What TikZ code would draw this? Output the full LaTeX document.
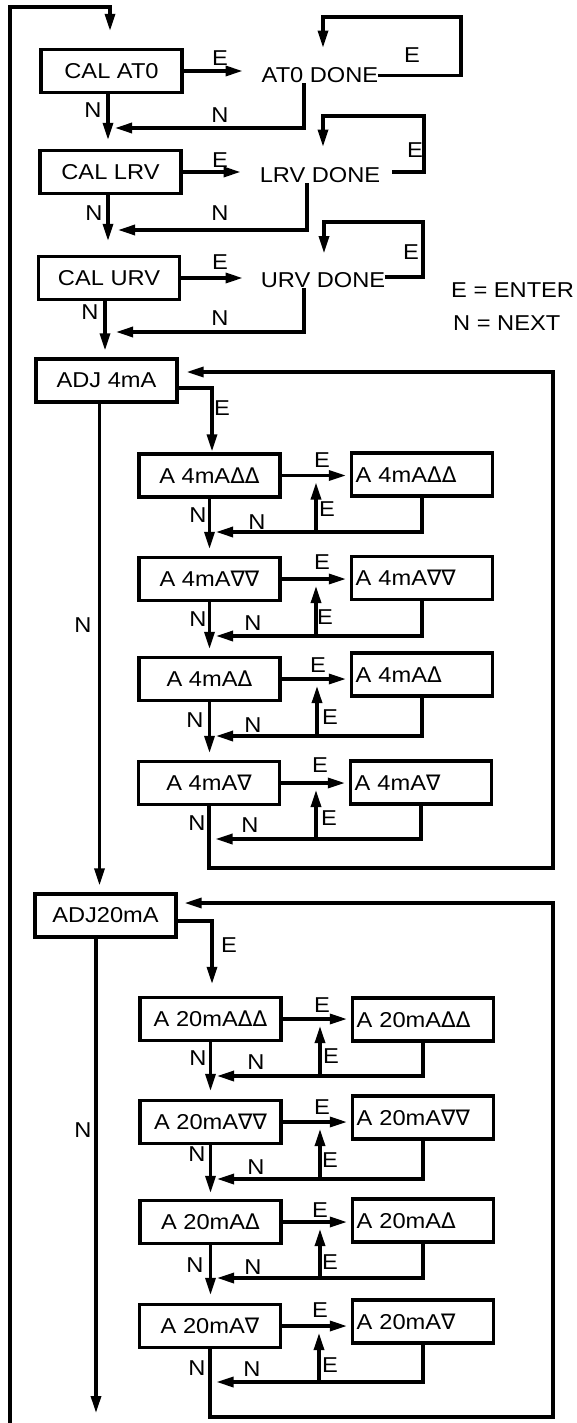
\documentclass[tikz,border=0pt]{standalone}
\usepackage{fontspec}
\setmainfont{Liberation Sans}[FakeStretch=1.1]
\newfontfamily\symf{DejaVu Sans}[Scale=1.0]
\usetikzlibrary{arrows.meta}
\newcommand{\tup}{{\symf Δ}}
\newcommand{\tdn}{{\symf ∇}}
\begin{document}
\begin{tikzpicture}[x=1pt,y=-1pt,
  font=\fontsize{21.5}{25}\selectfont,
  arr/.style={line width=3.2pt,-{Triangle[length=17pt,width=10pt]}},
  lbox/.style={draw,line width=3.2pt,minimum width=141pt,minimum height=43pt,inner sep=0pt},
  rbox/.style={draw,line width=3.2pt,text width=133pt,inner xsep=4pt,inner ysep=0pt,minimum height=43pt,align=left},
  plain/.style={inner sep=0pt},
  lbl/.style={inner sep=0pt}]
\useasboundingbox (0,0) rectangle (576,1423);

% ---------- nodes ----------
\node[lbox] (calat0) at (111.5,71) {CAL AT0};
\node[lbox] (callrv) at (110.5,172) {CAL LRV};
\node[lbox] (calurv) at (109,278) {CAL URV};
\node[plain] (at0done) at (320,75.5) {AT0 DONE};
\node[plain] (lrvdone) at (320,175.5) {LRV DONE};
\node[plain] (urvdone) at (323,280) {URV DONE};
\node[lbox] (adj4) at (106.5,380.5) {ADJ 4mA};
\node[lbox] (adj20) at (105.5,915.5) {ADJ20mA};

\node[lbox] (a1L) at (209.5,475.5) {A 4mA\tup\tup};
\node[rbox] (a1R) at (422,474.5) {A 4mA\tup\tup};
\node[lbox] (a2L) at (209.5,579) {A 4mA\tdn\tdn};
\node[rbox] (a2R) at (422,578) {A 4mA\tdn\tdn};
\node[lbox] (a3L) at (209.5,679) {A 4mA\tup};
\node[rbox] (a3R) at (422,674.5) {A 4mA\tup};
\node[lbox] (a4L) at (209,783) {A 4mA\tdn};
\node[rbox] (a4R) at (421,782.5) {A 4mA\tdn};

\node[lbox] (b1L) at (210.5,1019) {A 20mA\tup\tup};
\node[rbox] (b1R) at (423,1019.5) {A 20mA\tup\tup};
\node[lbox] (b2L) at (210.5,1122) {A 20mA\tdn\tdn};
\node[rbox] (b2R) at (423,1117.5) {A 20mA\tdn\tdn};
\node[lbox] (b3L) at (210.5,1222) {A 20mA\tup};
\node[rbox] (b3R) at (423,1220.5) {A 20mA\tup};
\node[lbox] (b4L) at (210,1326) {A 20mA\tdn};
\node[rbox] (b4R) at (423,1321.5) {A 20mA\tdn};

\node[plain,anchor=west] (leg1) at (451,290) {E = ENTER};
\node[plain,anchor=west] (leg2) at (453,323) {N = NEXT};

% ---------- coordinates ----------
\coordinate (lb) at (10,1426);
\coordinate (tl) at (10,7);
\coordinate (m1) at (108,128);
\coordinate (m2) at (108,230);
\coordinate (m3) at (105,332);
\coordinate (c1) at (461,17);
\coordinate (c2) at (424,116);
\coordinate (c3) at (423,222);
\coordinate (loop4) at (553,868);
\coordinate (loop20) at (553,1417);
\coordinate (bend) at (96,1413);
\coordinate (a1n) at (316,532);
\coordinate (a2n) at (316,636);
\coordinate (a3n) at (317,736);
\coordinate (a4n) at (316,839);
\coordinate (b1n) at (320,1076);
\coordinate (b2n) at (320,1179);
\coordinate (b3n) at (320,1278);
\coordinate (b4n) at (319,1382);

% ---------- top section ----------
\draw[arr,shorten >=17pt] (lb) -- (tl) -| ([xshift=-1.5pt]calat0.north);
\draw[arr,shorten >=19pt] (calat0.east) -- (calat0.east -| at0done.west);
\draw[arr,shorten >=20pt] (at0done.east) -| (c1) -| ([xshift=3pt]at0done.north);
\draw[arr,shorten >=7pt] ([xshift=-16pt]at0done.south) |- (m1);
\draw[arr,shorten >=9pt] (calat0.south -| m1) -- (callrv.north -| m1);

\draw[arr,shorten >=19pt] (callrv.east) -- (callrv.east -| lrvdone.west);
\draw[arr,shorten <=12pt,shorten >=21pt] ([yshift=3.5pt]lrvdone.east) -| (c2) -| ([xshift=3pt]lrvdone.north);
\draw[arr,shorten >=10pt] ([xshift=-13pt]lrvdone.south) |- (m2);
\draw[arr,shorten >=14pt] (callrv.south -| m2) -- (calurv.north -| m2);

\draw[arr,shorten >=18pt] (calurv.east) -- (calurv.east -| urvdone.west);
\draw[arr,shorten >=19pt] ([yshift=3pt]urvdone.east) -| (c3) -| ([xshift=1pt]urvdone.north);
\draw[arr,shorten >=11pt] ([xshift=-19pt]urvdone.south) |- (m3);
\draw[arr,shorten >=7pt] (calurv.south -| m3) -- (adj4.north -| m3);

\node[lbl] at (220,58) {E};
\node[lbl] at (412,55) {E};
\node[lbl] at (220,115) {N};
\node[lbl] at (93,110) {N};
\node[lbl] at (220,160) {E};
\node[lbl] at (415,150) {E};
\node[lbl] at (220,213) {N};
\node[lbl] at (94,213) {N};
\node[lbl] at (220,262) {E};
\node[lbl] at (411,252) {E};
\node[lbl] at (220,318) {N};
\node[lbl] at (90,312) {N};

% ---------- ADJ 4mA ----------
\draw[arr,shorten >=1pt] ([yshift=-7.5pt]adj4.east) -| ([xshift=2.5pt]a1L.north);
\draw[arr,shorten >=7pt] ([xshift=-7pt]adj4.south) -- ([xshift=-7pt]adj4.south |- adj20.north);
\draw[arr,shorten >=8pt] (a4L.south) |- (loop4) |- ([yshift=8.5pt]adj4.east);
\node[lbl] at (222,408) {E};
\node[lbl] at (83,625) {N};

% rows 4mA
\draw[arr,shorten >=4pt] (a1L.east) -- (a1L.east -| a1R.west);
\draw[arr,shorten >=6.5pt] (a1R.south) |- (a1L.south |- a1n);
\draw[arr,shorten >=7pt] (a1n) -- (a1n |- a1L.east);
\draw[arr,shorten >=7pt] (a1L.south) -- (a2L.north);

\draw[arr,shorten >=4pt] (a2L.east) -- (a2L.east -| a2R.west);
\draw[arr,shorten >=6.5pt] (a2R.south) |- (a2L.south |- a2n);
\draw[arr,shorten >=7pt] (a2n) -- (a2n |- a2L.east);
\draw[arr,shorten >=7pt] (a2L.south) -- (a3L.north);

\draw[arr,shorten >=4pt] (a3L.east) -- (a3L.east -| a3R.west);
\draw[arr,shorten >=6.5pt] (a3R.south) |- (a3L.south |- a3n);
\draw[arr,shorten >=7pt] (a3n) -- (a3n |- a3L.east);
\draw[arr,shorten >=7pt] (a3L.south) -- ([xshift=0.5pt]a4L.north);

\draw[arr,shorten >=4pt] (a4L.east) -- (a4L.east -| a4R.west);
\draw[arr,shorten >=6.5pt] (a4R.south) |- (a4L.south |- a4n);
\draw[arr,shorten >=7pt] (a4n) -- (a4n |- a4L.east);

\node[lbl] at (322,460) {E};
\node[lbl] at (327,509) {E};
\node[lbl] at (257,522) {N};
\node[lbl] at (198,515) {N};
\node[lbl] at (322,562) {E};
\node[lbl] at (325,617) {E};
\node[lbl] at (253,623) {N};
\node[lbl] at (198,619) {N};
\node[lbl] at (318,665) {E};
\node[lbl] at (330,717) {E};
\node[lbl] at (253,725) {N};
\node[lbl] at (195,720) {N};
\node[lbl] at (320,765) {E};
\node[lbl] at (329,818) {E};
\node[lbl] at (250,825) {N};
\node[lbl] at (197,823) {N};

% ---------- ADJ 20mA ----------
\draw[arr,shorten >=12pt] ([yshift=-5.5pt]adj20.east) -| ([xshift=1.5pt]b1L.north);
\draw[arr] ([xshift=-9.5pt]adj20.south) -- (bend);
\draw[arr,shorten >=7pt] (b4L.south) |- (loop20) |- ([yshift=12.5pt]adj20.east);
\node[lbl] at (229,945) {E};
\node[lbl] at (83,1130) {N};

\draw[arr,shorten >=4pt] (b1L.east) -- (b1L.east -| b1R.west);
\draw[arr,shorten >=6.5pt] (b1R.south) |- (b1L.south |- b1n);
\draw[arr,shorten >=7pt] (b1n) -- (b1n |- b1L.east);
\draw[arr,shorten >=8pt] (b1L.south) -- (b2L.north);

\draw[arr,shorten >=4pt] (b2L.east) -- (b2L.east -| b2R.west);
\draw[arr,shorten >=6.5pt] (b2R.south) |- (b2L.south |- b2n);
\draw[arr,shorten >=7pt] (b2n) -- (b2n |- b2L.east);
\draw[arr,shorten >=6pt] (b2L.south) -- (b3L.north);

\draw[arr,shorten >=4pt] (b3L.east) -- (b3L.east -| b3R.west);
\draw[arr,shorten >=6.5pt] (b3R.south) |- (b3L.south |- b3n);
\draw[arr,shorten >=7pt] (b3n) -- (b3n |- b3L.east);
\draw[arr,shorten >=8pt] (b3L.south) -- ([xshift=0.5pt]b4L.north);

\draw[arr,shorten >=4pt] (b4L.east) -- (b4L.east -| b4R.west);
\draw[arr,shorten >=6.5pt] (b4R.south) |- (b4L.south |- b4n);
\draw[arr,shorten >=7pt] (b4n) -- (b4n |- b4L.east);

\node[lbl] at (322,1005) {E};
\node[lbl] at (331,1056) {E};
\node[lbl] at (256,1062) {N};
\node[lbl] at (198,1058) {N};
\node[lbl] at (322,1107) {E};
\node[lbl] at (330,1160) {E};
\node[lbl] at (256,1167) {N};
\node[lbl] at (197,1154) {N};
\node[lbl] at (320,1210) {E};
\node[lbl] at (330,1262) {E};
\node[lbl] at (253,1267) {N};
\node[lbl] at (195,1265) {N};
\node[lbl] at (320,1310) {E};
\node[lbl] at (330,1365) {E};
\node[lbl] at (252,1369) {N};
\node[lbl] at (197,1368) {N};
\end{tikzpicture}
\end{document}
